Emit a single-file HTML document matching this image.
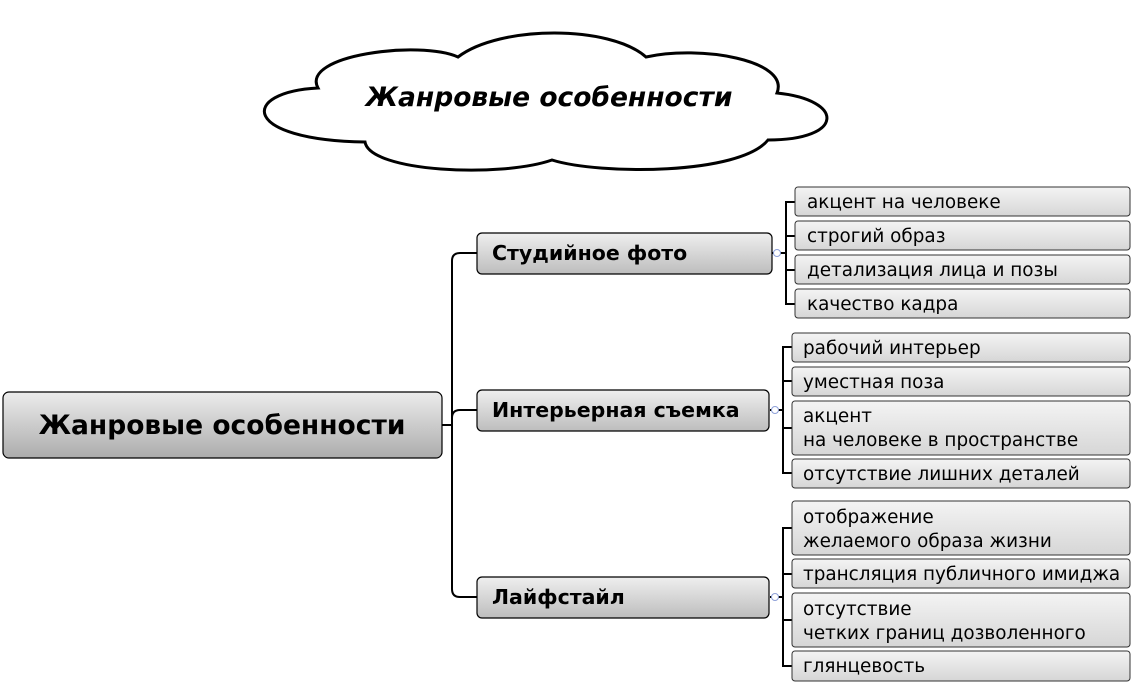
<!DOCTYPE html>
<html><head><meta charset="utf-8"><style>
html,body{margin:0;padding:0;background:#fff;}
svg{display:block;}
text{font-family:"DejaVu Sans","Liberation Sans",sans-serif;fill:#000;}
</style></head><body>
<svg width="1136" height="686" viewBox="0 0 1136 686" xmlns="http://www.w3.org/2000/svg">
<defs>
<linearGradient id="gm" x1="0" y1="0" x2="0" y2="1"><stop offset="0" stop-color="#ececec"/><stop offset="1" stop-color="#acacac"/></linearGradient>
<linearGradient id="gb" x1="0" y1="0" x2="0" y2="1"><stop offset="0" stop-color="#efefef"/><stop offset="1" stop-color="#bdbdbd"/></linearGradient>
<linearGradient id="gl" x1="0" y1="0" x2="0" y2="1"><stop offset="0" stop-color="#f4f4f4"/><stop offset="1" stop-color="#d6d6d6"/></linearGradient>
</defs>
<!-- cloud -->
<path d="M318,88 C300,55 420,40 458,57 C500,25 610,25 646,57 C700,45 790,60 777,93 C845,100 845,140 768,140 C740,175 600,175 552,160 C500,178 370,172 365,142 C240,140 240,92 318,88 Z" fill="#fff" stroke="#000" stroke-width="3"/>
<text x="549" y="106" font-size="26.5" font-weight="bold" font-style="italic" text-anchor="middle">Жанровые особенности</text>

<g fill="none" stroke="#000" stroke-width="2">
<path d="M442,425 H452"/>
<path d="M477,253 H460 Q452,253 452,261 V589 Q452,597 460,597 H477"/>
<path d="M452,418 Q452,410 460,410 H477"/>
<path d="M795,202 H786 V304 H795 M786,236 H795 M786,270 H795 M772,253 H786"/>
<path d="M792,347 H783 V473 H792 M783,381 H792 M783,428 H792 M770,410 H783"/>
<path d="M792,528 H783 V666 H792 M783,574 H792 M783,620 H792 M770,597 H783"/>
</g>
<g fill="#fff" stroke="#8ea0d8" stroke-width="1">
<circle cx="777" cy="253" r="3.5"/><circle cx="775" cy="410" r="3.5"/><circle cx="775" cy="597" r="3.5"/>
</g>

<rect x="3" y="392" width="439" height="66" rx="6" fill="url(#gm)" stroke="#000" stroke-width="1.2"/>
<text x="222" y="434" font-size="26.5" font-weight="bold" text-anchor="middle">Жанровые особенности</text>

<g stroke="#000" stroke-width="1.2" fill="url(#gb)">
<rect x="477" y="233" width="295" height="41" rx="5"/>
<rect x="477" y="390" width="292" height="41" rx="5"/>
<rect x="477" y="577" width="292" height="41" rx="5"/>
</g>
<g font-size="20.5" font-weight="bold">
<text x="492" y="260">Студийное фото</text>
<text x="492" y="417">Интерьерная съемка</text>
<text x="492" y="604">Лайфстайл</text>
</g>

<g stroke="#333" stroke-width="1" fill="url(#gl)">
<rect x="795" y="187" width="335" height="29" rx="3"/>
<rect x="795" y="221" width="335" height="29" rx="3"/>
<rect x="795" y="255" width="335" height="29" rx="3"/>
<rect x="795" y="289" width="335" height="29" rx="3"/>
<rect x="792" y="333" width="338" height="29" rx="3"/>
<rect x="792" y="367" width="338" height="29" rx="3"/>
<rect x="792" y="401" width="338" height="54" rx="3"/>
<rect x="792" y="459" width="338" height="29" rx="3"/>
<rect x="792" y="501" width="338" height="54" rx="3"/>
<rect x="792" y="559" width="338" height="29" rx="3"/>
<rect x="792" y="593" width="338" height="54" rx="3"/>
<rect x="792" y="651" width="338" height="30" rx="3"/>
</g>
<g font-size="18.4">
<text x="807" y="208">акцент на человеке</text>
<text x="807" y="242">строгий образ</text>
<text x="807" y="276">детализация лица и позы</text>
<text x="807" y="310">качество кадра</text>
<text x="803" y="354">рабочий интерьер</text>
<text x="803" y="388">уместная поза</text>
<text x="803" y="422">акцент</text>
<text x="803" y="446">на человеке в пространстве</text>
<text x="803" y="480">отсутствие лишних деталей</text>
<text x="803" y="523">отображение</text>
<text x="803" y="547">желаемого образа жизни</text>
<text x="803" y="580">трансляция публичного имиджа</text>
<text x="803" y="615">отсутствие</text>
<text x="803" y="639">четких границ дозволенного</text>
<text x="803" y="672">глянцевость</text>
</g>
</svg>
</body></html>
